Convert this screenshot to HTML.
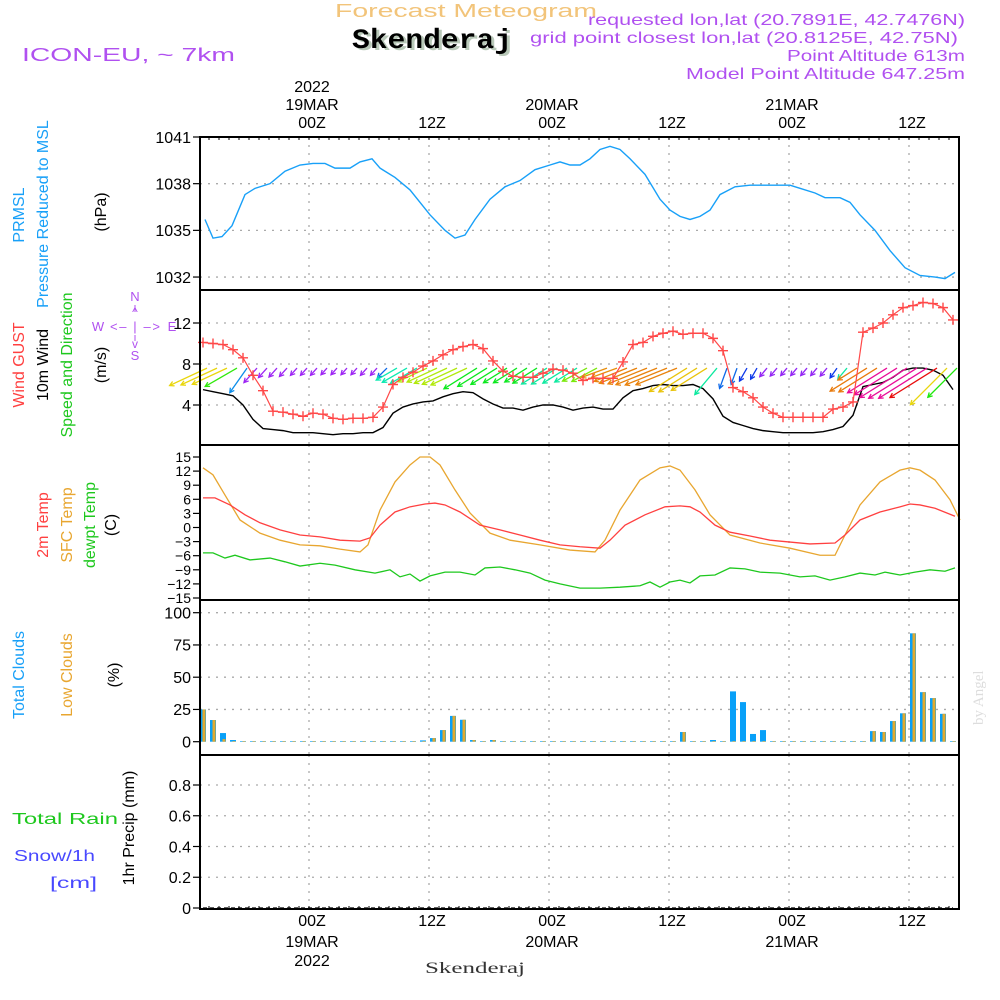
<!DOCTYPE html>
<html><head><meta charset="utf-8"><style>
html,body{margin:0;padding:0;background:#fff;}
svg{display:block;font-family:"Liberation Sans",sans-serif;}
</style></head><body>
<svg id="chart" width="1000" height="1000" viewBox="0 0 1000 1000">
<g id="texts">
<text x="335" y="17" textLength="262" lengthAdjust="spacingAndGlyphs" font-size="18" fill="#f2c47a">Forecast Meteogram</text>
<text x="355" y="50" font-family="Liberation Mono" font-weight="bold" font-size="28" fill="#b9c9b9" textLength="160" lengthAdjust="spacingAndGlyphs">Skenderaj</text>
<text x="352" y="48" font-family="Liberation Mono" font-weight="bold" font-size="28" fill="#000" textLength="160" lengthAdjust="spacingAndGlyphs">Skenderaj</text>
<text x="588" y="25" textLength="377" lengthAdjust="spacingAndGlyphs" font-size="16" fill="#b050f0">requested lon,lat (20.7891E, 42.7476N)</text>
<text x="530" y="43" textLength="428" lengthAdjust="spacingAndGlyphs" font-size="16" fill="#b050f0">grid point closest lon,lat (20.8125E, 42.75N)</text>
<text x="787" y="61" textLength="178" lengthAdjust="spacingAndGlyphs" font-size="16" fill="#b050f0">Point Altitude 613m</text>
<text x="686" y="79" textLength="279" lengthAdjust="spacingAndGlyphs" font-size="16" fill="#b050f0">Model Point Altitude 647.25m</text>
<text x="22" y="61" textLength="213" lengthAdjust="spacingAndGlyphs" font-size="18" fill="#b050f0">ICON-EU, ~ 7km</text>
<text x="425" y="973" textLength="100" lengthAdjust="spacingAndGlyphs" font-family="Liberation Serif" font-size="16" fill="#333">Skenderaj</text>
<text transform="translate(983,725) rotate(-90)" font-family="Liberation Serif" font-size="15" fill="#ddd">by Angel</text>
</g>
<g id="plot"></g>
</svg>
<script>
// ---- data ----
const h0 = -10.6; // hour of first hourly sample relative to 00Z 19MAR
const tickHours = [0, 12, 24, 36, 48, 60];
const tickLabels = ["00Z", "12Z", "00Z", "12Z", "00Z", "12Z"];
const dayLabels = ["19MAR", "", "20MAR", "", "21MAR", ""];
const pressHours = [-10.4,-9.6,-8.7,-7.7,-6.4,-5.4,-3.9,-2.4,-0.9,0.4,1.6,2.6,4.1,5.1,6.3,7.1,8.6,10.1,12.1,13.6,14.6,15.6,16.6,18.1,19.6,21.1,22.6,24.1,25.1,26.1,27.1,28.1,29.1,30.1,31.1,32.1,33.6,35.1,36.1,37.1,38.1,39.1,40.1,41.1,42.6,44.1,45.6,47.1,48.1,49.1,50.6,51.6,53.1,54.1,55.1,56.6,58.1,59.6,61.1,62.6,63.6,64.6];
const pressVals = [1035.7,1034.5,1034.6,1035.3,1037.3,1037.7,1038.0,1038.8,1039.2,1039.3,1039.3,1039.0,1039.0,1039.4,1039.6,1039.0,1038.4,1037.6,1036.0,1035.0,1034.5,1034.7,1035.7,1037.0,1037.8,1038.2,1038.9,1039.2,1039.4,1039.2,1039.2,1039.6,1040.2,1040.4,1040.2,1039.6,1038.6,1037.0,1036.3,1035.9,1035.7,1035.9,1036.3,1037.3,1037.8,1037.9,1037.9,1037.9,1037.9,1037.7,1037.4,1037.1,1037.1,1036.8,1036.0,1035.0,1033.7,1032.6,1032.1,1032.0,1031.9,1032.3];
const pressTicks = [1032, 1035, 1038, 1041];
const gust = [10.1,10.0,9.9,9.4,8.6,6.9,5.4,3.4,3.3,3.1,2.9,3.2,3.1,2.7,2.6,2.7,2.7,2.8,3.8,6.0,6.7,7.2,7.8,8.3,8.9,9.4,9.7,9.9,9.5,8.3,7.3,6.8,6.7,6.7,7.1,7.5,7.4,7.1,6.4,6.6,6.6,6.6,8.2,9.9,10.1,10.7,11.0,11.2,10.9,11.0,11.0,10.5,9.3,5.7,5.3,4.7,3.8,3.2,2.8,2.8,2.8,2.8,2.8,3.6,3.8,4.3,11.1,11.5,12.0,12.8,13.5,13.7,14.0,13.9,13.5,12.3];
const wind = [5.5,5.3,5.1,4.9,4.0,2.6,1.7,1.6,1.5,1.3,1.3,1.3,1.2,1.1,1.2,1.2,1.3,1.3,1.8,3.2,3.8,4.1,4.3,4.4,4.8,5.1,5.3,5.2,4.6,4.1,3.7,3.7,3.5,3.8,4.0,4.0,3.8,3.5,3.7,3.8,3.6,3.6,4.7,5.4,5.6,5.9,6.0,5.9,5.9,6.0,5.6,4.6,2.9,2.3,2.0,1.7,1.5,1.4,1.3,1.3,1.3,1.3,1.4,1.6,1.9,3.0,5.8,6.0,6.2,6.7,7.4,7.6,7.6,7.4,6.9,5.5];
const windDir = [65,65,65,60,35,42,42,42,42,42,42,42,42,42,42,42,42,42,45,60,60,60,65,65,65,65,65,58,58,58,58,58,58,58,58,58,58,58,62,62,70,70,68,68,68,68,68,68,58,58,58,40,20,20,30,30,40,40,40,40,40,40,40,35,40,58,58,58,58,58,58,58,58,58,45,45];
const windHue = [55,55,55,110,205,275,275,275,275,275,275,275,275,275,275,275,275,275,215,165,165,165,75,75,75,75,75,125,125,125,125,125,125,125,160,160,160,160,90,90,35,35,32,32,32,32,32,32,50,50,50,160,215,215,228,228,272,272,272,272,272,272,272,228,160,30,30,30,322,322,322,322,322,0,55,115];
const windTicks = [4, 8, 12];
const t2mHours = [-10.6,-9.4,-7.9,-6.4,-4.9,-2.9,-0.9,1.1,3.1,5.1,6.1,7.1,8.6,10.1,11.6,12.6,13.6,15.1,17.1,19.1,21.1,23.1,25.1,27.1,29.1,30.1,31.6,33.6,35.6,37.1,38.1,39.1,40.6,42.1,44.1,46.1,48.1,50.1,52.6,53.6,55.1,57.1,59.1,60.1,61.1,62.6,64.6];
const t2mVals = [6.3,6.3,4.8,2.7,1.0,-0.5,-1.6,-2.0,-2.7,-2.9,-2.2,0.5,3.3,4.4,5.0,5.2,4.8,3.3,0.5,-0.5,-1.6,-2.7,-3.7,-4.1,-4.4,-2.7,0.5,2.7,4.4,4.6,4.4,3.3,0.5,-1.0,-1.8,-2.7,-3.1,-3.5,-3.3,-1.6,1.6,3.3,4.4,5.0,4.8,4.1,2.4];
const sfcHours = [-10.6,-9.6,-8.4,-6.9,-4.9,-2.9,-0.9,1.1,3.1,5.1,5.9,7.1,8.6,10.1,11.1,12.1,13.1,14.6,16.1,18.1,20.1,23.1,26.1,28.6,29.6,31.1,33.1,35.1,36.1,37.1,38.6,40.1,42.1,45.1,48.1,51.1,52.6,53.6,55.1,57.1,59.1,60.1,61.1,62.6,64.1,65.1];
const sfcVals = [12.7,11.2,6.9,1.6,-1.2,-2.7,-3.7,-3.9,-4.6,-5.2,-3.7,3.7,9.7,13.3,15.0,15.0,13.3,8.0,3.1,-1.2,-2.7,-3.7,-4.8,-5.2,-2.7,3.7,10.1,12.7,13.1,12.2,8.0,2.7,-1.6,-3.3,-4.4,-5.9,-5.9,-1.6,4.8,9.7,12.2,12.7,12.2,10.1,5.9,1.6];
const dewHours = [-10.6,-9.6,-8.4,-7.4,-5.9,-3.9,-2.4,-0.9,1.1,2.6,4.6,6.6,8.1,9.1,10.1,11.1,12.1,13.6,15.1,16.6,17.6,19.1,20.6,22.1,23.6,25.1,27.1,29.1,31.1,33.1,34.1,35.1,36.1,37.1,38.1,39.1,40.6,42.1,43.6,45.1,47.1,49.1,50.6,52.1,53.6,55.1,56.6,57.6,59.1,60.6,62.1,63.6,64.6];
const dewVals = [-5.4,-5.4,-6.5,-5.9,-6.9,-6.5,-7.3,-8.2,-7.6,-8.0,-9.0,-9.7,-9.0,-10.5,-9.9,-11.4,-10.3,-9.5,-9.5,-10.1,-8.6,-8.4,-9.0,-9.7,-11.2,-12.0,-12.9,-12.9,-12.7,-12.4,-11.6,-12.7,-11.6,-11.2,-11.8,-10.3,-10.1,-8.6,-8.8,-9.5,-9.7,-10.5,-10.3,-11.2,-10.5,-9.7,-10.1,-9.5,-10.1,-9.5,-9.0,-9.3,-8.6];
const tempTicks = [-15,-12,-9,-6,-3,0,3,6,9,12,15];
const totalClouds = [25,16.8,6.7,1.3,0.5,0.5,0.5,0.5,0.5,0.5,0.5,0.5,0.5,0.5,0.5,0.5,0.5,0.5,0.5,0.5,0.5,0.5,1,2.8,9,20,17,1.3,0.5,1.3,0.5,0.5,0.5,0.5,0.5,0.5,0.5,0.5,0.5,0.5,0.5,0.5,0.5,0.5,0.5,0.5,0.5,0.5,7.5,0.5,0.5,1.3,0.5,39,30.7,6,9,0.5,0.5,0.5,0.5,0.5,0.5,0.5,0.5,0.5,0.5,8.2,7.5,16,22,84,38.4,33.8,21.6,0.5];
const lowClouds = [25,16.8,2,0.5,0.5,0.5,0.5,0.5,0.5,0.5,0.5,0.5,0.5,0.5,0.5,0.5,0.5,0.5,0.5,0.5,0.5,0.5,0.5,2.8,9,20,17,1.3,0.5,1.3,0.5,0.5,0.5,0.5,0.5,0.5,0.5,0.5,0.5,0.5,0.5,0.5,0.5,0.5,0.5,0.5,0.5,0.5,7.5,0.5,0.5,0.5,0.5,0.5,0.5,0.5,0.5,0.5,0.5,0.5,0.5,0.5,0.5,0.5,0.5,0.5,0.5,8.2,7.5,16,22,84,38.4,33.8,21.6,0.5];
const cloudTicks = [0, 25, 50, 75, 100];
const precip = new Array(76).fill(0);
const precipTicks = [0, 0.2, 0.4, 0.6, 0.8];

// ---- layout ----
const X0 = 200, X1 = 959;
const P = {
  pres: {top: 137, bot: 290},
  wind: {top: 290, bot: 445},
  temp: {top: 445, bot: 600},
  cloud: {top: 600, bot: 755},
  prec: {top: 755, bot: 909}
};
const xH = h => 309 + 10 * h;
const xI = i => xH(h0 + i);
const yP = v => 137 + (1041 - v) * 15.56;
const yW = v => 446 - v * 10.25;
const yT = v => 527.5 - v * 4.7;
const yC = v => 741.7 - v * 1.29;
const yR = v => 908 - v * 153.75;

const NS = "http://www.w3.org/2000/svg";
const plot = document.getElementById('plot');
function el(tag, attrs, parent) {
  const e = document.createElementNS(NS, tag);
  for (const k in attrs) e.setAttribute(k, attrs[k]);
  (parent || plot).appendChild(e);
  return e;
}
function grp(name) {
  const g = el('g', {});
  
  
  return g;
}
function txt(parent, x, y, s, opts) {
  const t = el('text', Object.assign({x: x, y: y, 'font-size': 15, fill: '#000'}, opts || {}), parent);
  t.textContent = s;
  return t;
}

// grid
const grid = grp('grid-lines');
for (const k in P) {
  for (const h of tickHours) {
    const gl = el('line', {x1: xH(h), x2: xH(h), y1: P[k].top, y2: P[k].bot, stroke: '#aaa', 'stroke-width': 1.3, 'stroke-dasharray': '2,6'}, grid);
    
    
  }
}
function hgrid(ticks, yf) {
  for (const v of ticks) {
    const y = yf(v);
    const gl = el('line', {x1: X0, x2: X1, y1: y, y2: y, stroke: '#aaa', 'stroke-width': 1.3, 'stroke-dasharray': '2,6'}, grid);
    
    
  }
}
hgrid(pressTicks.slice(0, 3), yP);
hgrid(windTicks, yW);
hgrid(cloudTicks.slice(1), yC);
hgrid(precipTicks.slice(1), yR);

// y axes
function yaxis(name, ticks, yf, fs, fmt) {
  const g = grp(name);
  for (const v of ticks) {
    const y = yf(v);
    const tk = el('line', {x1: X0 - 7, x2: X0, y1: y, y2: y, stroke: '#000', 'stroke-width': 1.2}, g);
    
    
    const t = txt(g, X0 - 9, y + fs * 0.36, fmt ? fmt(v) : String(v), {'text-anchor': 'end', 'font-size': fs});
    
    
  }
}
yaxis('pressure-y-axis', pressTicks, yP, 16);
yaxis('wind-y-axis', windTicks, yW, 16);
yaxis('temp-y-axis', tempTicks, yT, 14, v => v < 0 ? '\u2212' + Math.abs(v) : String(v));
yaxis('cloud-y-axis', cloudTicks, yC, 16);
yaxis('precip-y-axis', precipTicks, yR, 16, v => v === 0 ? '0' : v.toFixed(1));

// pressure line
const pres = grp('pressure-line');
el('polyline', {points: pressHours.map((h, i) => xH(h) + ',' + yP(pressVals[i])).join(' '), fill: 'none', stroke: '#18a0f8', 'stroke-width': 1.4}, pres);

// wind speed line
const ws = grp('wind-speed-line');
el('polyline', {points: wind.map((v, i) => xI(i) + ',' + yW(v)).join(' '), fill: 'none', stroke: '#000', 'stroke-width': 1.4}, ws);

// wind arrows
const wa = grp('wind-arrows');
const tailY = yW(7.6);
wind.forEach((v, i) => {
  const L = Math.max(9, 7.5 * v);
  const a = windDir[i] * Math.PI / 180;
  const dx = -L * Math.sin(a), dy = L * Math.cos(a);
  const x1 = xI(i) + 4, y1 = tailY, x2 = x1 + dx, y2 = y1 + dy;
  const col = 'hsl(' + windHue[i] + ',90%,' + (windHue[i] > 240 && windHue[i] < 300 ? 55 : 48) + '%)';
  const ag = el('g', {stroke: col, 'stroke-width': 1.3, fill: 'none'}, wa);
  
  
  el('line', {x1: x1, y1: y1, x2: x2, y2: y2}, ag);
  const ux = dx / L, uy = dy / L, hs = 5;
  const c = Math.cos(0.5), s = Math.sin(0.5);
  el('polyline', {points: (x2 - hs * (ux * c - uy * s)) + ',' + (y2 - hs * (uy * c + ux * s)) + ' ' + x2 + ',' + y2 + ' ' + (x2 - hs * (ux * c + uy * s)) + ',' + (y2 - hs * (uy * c - ux * s))}, ag);
});

// gust line with + markers
const gg = grp('wind-gust-line');
el('polyline', {points: gust.map((v, i) => xI(i) + ',' + yW(v)).join(' '), fill: 'none', stroke: '#ff4848', 'stroke-width': 1.2}, gg);
gust.forEach((v, i) => {
  const x = xI(i), y = yW(v);
  const m = el('path', {d: 'M' + (x - 5) + ' ' + y + 'h10M' + x + ' ' + (y - 5) + 'v10', stroke: '#ff4848', 'stroke-width': 1.4}, gg);
  
  
});

// temperatures
function tline(name, hs, vs, col) {
  const g = grp(name);
  el('polyline', {points: hs.map((h, i) => xH(h) + ',' + yT(vs[i])).join(' '), fill: 'none', stroke: col, 'stroke-width': 1.3}, g);
}
tline('sfc-temp-line', sfcHours, sfcVals, '#e8a630');
tline('t2m-line', t2mHours, t2mVals, '#ff4040');
tline('dewpoint-line', dewHours, dewVals, '#1ec81e');

// clouds
const cb = grp('cloud-bars');
totalClouds.forEach((v, i) => {
  const x = xI(i);
  const b = el('rect', {x: x - 3, y: yC(v), width: 6, height: yC(0) - yC(v), fill: '#08a0f8'}, cb);
  
  
  const lv = lowClouds[i];
  const o = el('rect', {x: x - 0.5, y: yC(lv), width: 3, height: yC(0) - yC(lv), fill: '#e0aa30'}, cb);
  
  
});

// precip (zero)
const pr = grp('precip-line');
el('polyline', {points: precip.map((v, i) => xI(i) + ',' + yR(v)).join(' '), fill: 'none', stroke: '#000', 'stroke-width': 1.2, 'stroke-dasharray': '4,3'}, pr);

// frames
const fr = grp('panel-frames');
for (const k in P) {
  el('rect', {x: X0, y: P[k].top, width: X1 - X0, height: P[k].bot - P[k].top, fill: 'none', stroke: '#000', 'stroke-width': 2}, fr);
}
for (let h = -10; h <= 65; h++) {
  el('line', {x1: xH(h), x2: xH(h), y1: 137, y2: 140, stroke: '#000', 'stroke-width': 1}, fr);
  el('line', {x1: xH(h), x2: xH(h), y1: 906, y2: 909, stroke: '#000', 'stroke-width': 1}, fr);
}

// x axis labels
const xt = grp('x-axis-top');
const xb = grp('x-axis-bottom');
tickHours.forEach((h, i) => {
  const x = xH(h) + 3;
  const a = txt(xt, x, 128, tickLabels[i], {'text-anchor': 'middle', 'font-size': 16});
  
  
  const b = txt(xb, x, 926, tickLabels[i], {'text-anchor': 'middle', 'font-size': 16});
  
  
  if (dayLabels[i]) {
    const c = txt(xt, x, 110, dayLabels[i], {'text-anchor': 'middle', 'font-size': 16});
    
    
    const d = txt(xb, x, 947, dayLabels[i], {'text-anchor': 'middle', 'font-size': 16});
    
    
  }
});
const y1 = txt(xt, xH(0) + 3, 92, '2022', {'text-anchor': 'middle', 'font-size': 16});


const y2 = txt(xb, xH(0) + 3, 966, '2022', {'text-anchor': 'middle', 'font-size': 16});



// left rotated labels
const lab = grp('panel-labels');
function rot(x, y, s, col, name, fs) {
  const t = el('text', {transform: 'translate(' + x + ',' + y + ') rotate(-90)', 'text-anchor': 'middle', 'font-size': fs || 16, fill: col}, lab);
  t.textContent = s;
  
  
}
rot(24, 215, 'PRMSL', '#18a0f8', 'prmsl-label');
rot(48, 214, 'Pressure Reduced to MSL', '#18a0f8', 'pressure-label');
rot(106, 212, '(hPa)', '#000', 'hpa-unit');
rot(24, 365, 'Wind GUST', '#ff4040', 'gust-label');
rot(48, 365, '10m Wind', '#000', 'wind-label');
rot(72, 365, 'Speed and Direction', '#1ec81e', 'speed-direction-label');
rot(106, 365, '(m/s)', '#000', 'ms-unit');
rot(48, 525, '2m Temp', '#ff4040', 't2m-label');
rot(72, 525, 'SFC Temp', '#e8a630', 'sfc-temp-label');
rot(95, 525, 'dewpt Temp', '#1ec81e', 'dewpt-label');
rot(116, 525, '(C)', '#000', 'c-unit');
rot(24, 675, 'Total Clouds', '#18a0f8', 'total-clouds-label');
rot(72, 675, 'Low Clouds', '#e8a630', 'low-clouds-label');
rot(119, 675, '(%)', '#000', 'pct-unit');
rot(134, 828, '1hr Precip (mm)', '#000', 'precip-label');
const tr = txt(lab, 12, 824, 'Total  Rain', {'font-size': 16, fill: '#1ec81e', textLength: 106, lengthAdjust: 'spacingAndGlyphs'});


const sn = txt(lab, 14, 861, 'Snow/1h', {'font-size': 16, fill: '#4848ff', textLength: 81, lengthAdjust: 'spacingAndGlyphs'});


const cm = txt(lab, 50, 888, '[cm]', {'font-size': 16, fill: '#4848ff', textLength: 47, lengthAdjust: 'spacingAndGlyphs'});



// compass
const cp = grp('compass');
const cc = '#b050f0';
txt(cp, 135, 301, 'N', {'font-size': 13, fill: cc, 'text-anchor': 'middle'});
txt(cp, 135, 360, 'S', {'font-size': 13, fill: cc, 'text-anchor': 'middle'});
txt(cp, 98, 331, 'W', {'font-size': 13, fill: cc, 'text-anchor': 'middle'});
txt(cp, 172, 331, 'E', {'font-size': 13, fill: cc, 'text-anchor': 'middle'});
txt(cp, 135, 331, '<\u2013 | \u2013>', {'font-size': 13, fill: cc, 'text-anchor': 'middle', textLength: 50, lengthAdjust: 'spacing'});
txt(cp, 135, 316, '^', {'font-size': 12, fill: cc, 'text-anchor': 'middle'});
txt(cp, 135, 348, 'v', {'font-size': 12, fill: cc, 'text-anchor': 'middle'});
el('line', {x1: 135, x2: 135, y1: 305, y2: 312, stroke: cc, 'stroke-width': 1}, cp);
el('line', {x1: 135, x2: 135, y1: 335, y2: 341, stroke: cc, 'stroke-width': 1}, cp);
</script>
</body></html>
